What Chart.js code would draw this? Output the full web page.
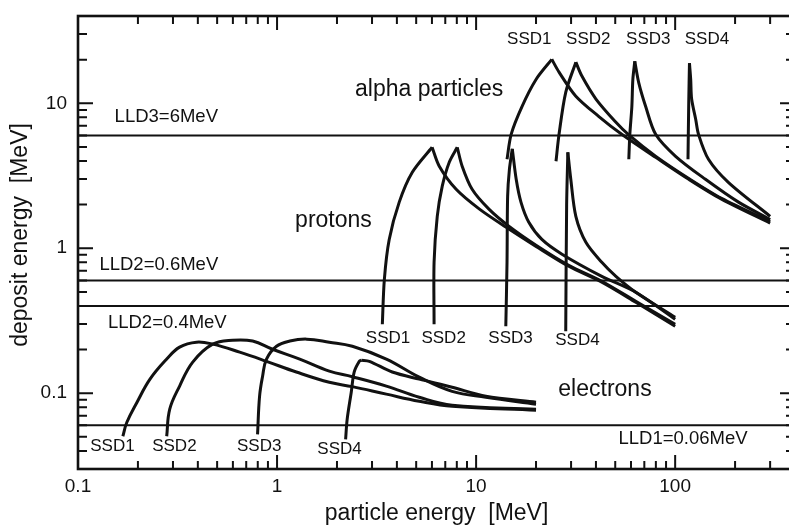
<!DOCTYPE html>
<html>
<head>
<meta charset="utf-8">
<title>deposit energy</title>
<script src="https://cdn.jsdelivr.net/npm/chart.js@4.4.1/dist/chart.umd.min.js"></script>
<style>
  html, body { margin: 0; padding: 0; background: #fff; overflow: hidden; }
  #wrap { position: relative; width: 800px; height: 527px; }
</style>
</head>
<body>
<div id="wrap"><canvas id="graph-energy"></canvas></div>
<script>
// [particle energy MeV, deposit energy MeV]
// alpha particles: rising part and falling part of each detector
const alphaSsd1Rise = [[14.3,4.11],[15.0,6.11],[17.0,9.5],[20.0,14.6],[24.0,20.1]];
const alphaSsd1Fall = [[24.0,20.1],[26.1,16.4],[31.7,11.2],[41.4,8.1],[53.9,6.11],[79.8,4.24],[117,2.99],[171,2.18],[300,1.49]];
const alphaSsd2Rise = [[25.2,3.98],[26.1,6.11],[28.2,11.9],[31.7,19.2]];
const alphaSsd2Fall = [[31.7,19.2],[34.0,15.4],[40.0,10.7],[50.4,7.4],[58.5,6.05],[80,4.3],[117,3.03],[171,2.21],[300,1.53]];
const alphaSsd3Rise = [[58.5,4.11],[59.2,6.11],[60.6,9.5],[61.3,14.6],[62.7,19.5]];
const alphaSsd3Fall = [[62.7,19.5],[65.6,13.9],[71.1,9.5],[79.8,6.11],[100.5,4.31],[142,2.99],[208,2.08],[300,1.58]];
const alphaSsd4Rise = [[116,4.11],[117,10],[118,18.9]];
const alphaSsd4Fall = [[118,18.9],[119.7,14.6],[121,10.7],[126.8,7.76],[131,6.11],[147,4.11],[185,2.85],[300,1.66]];

// protons
const protonSsd1Rise = [[3.38,0.299],[3.46,0.611],[3.66,1.15],[4.11,2.08],[4.78,3.34],[6.01,4.97]];
const protonSsd1Fall = [[6.01,4.97],[6.53,3.68],[7.94,2.55],[10.4,1.86],[14.1,1.40],[20.0,1.03],[29.2,0.751],[42.8,0.583],[63.4,0.424],[100,0.290]];
const protonSsd2Rise = [[6.15,0.299],[6.15,0.80],[6.38,1.66],[6.76,2.68],[7.33,3.92],[8.04,4.97]];
const protonSsd2Fall = [[8.04,4.97],[8.51,3.68],[9.55,2.55],[11.6,1.86],[14.6,1.42],[20.0,1.05],[29.2,0.763],[42.8,0.592],[63.4,0.431],[100,0.299]];
const protonSsd3Rise = [[14.1,0.29],[14.3,0.80],[14.4,2.28],[14.7,3.5],[15.2,4.85]];
const protonSsd3Fall = [[15.2,4.85],[15.9,2.99],[16.8,2.08],[18.4,1.51],[21.4,1.15],[27.0,0.91],[42.8,0.64],[63.4,0.497],[100,0.324]];
const protonSsd4Rise = [[28.2,0.268],[28.5,2.0],[28.9,4.59]];
const protonSsd4Fall = [[28.9,4.59],[29.9,2.99],[31.7,1.66],[35.6,1.10],[42.8,0.80],[50.4,0.64],[63.4,0.497],[100,0.334]];

// electrons
const electronSsd1 = [[0.168,0.0505],[0.176,0.063],[0.198,0.0867],[0.230,0.125],[0.279,0.172],[0.324,0.208],[0.394,0.225],[0.475,0.218],[0.649,0.192],[0.885,0.166],[1.25,0.140],[1.83,0.119],[2.39,0.111],[3.54,0.0985],[5.18,0.088],[7.58,0.0813],[20,0.0764]];
const electronSsd2 = [[0.279,0.0505],[0.289,0.0776],[0.324,0.112],[0.377,0.164],[0.475,0.218],[0.598,0.232],[0.754,0.229],[0.949,0.201],[1.30,0.172],[1.83,0.142],[2.39,0.130],[3.54,0.112],[5.18,0.0938],[7.58,0.0827],[20,0.0776]];
const electronSsd3 = [[0.798,0.052],[0.817,0.0953],[0.846,0.131],[0.885,0.172],[0.994,0.211],[1.16,0.229],[1.41,0.236],[1.83,0.225],[2.39,0.211],[3.54,0.172],[5.18,0.129],[7.58,0.103],[11.2,0.0938],[20,0.084]];
const electronSsd4Rise = [[2.21,0.048],[2.25,0.066],[2.36,0.102],[2.44,0.14],[2.59,0.166],[2.65,0.169]];
const electronSsd4Fall = [[2.65,0.169],[2.91,0.166],[3.79,0.140],[5.18,0.125],[7.58,0.110],[11.2,0.0953],[20,0.0867]];

// lower level discriminators
const lldLevels = [6, 0.6, 0.4, 0.06];

const xRange = [0.1, 400];
const yRange = [0.03, 40];
const xTickLabels = ['0.1', '1', '10', '100'];
const yTickLabels = ['0.1', '1', '10'];
const xTitle = 'particle energy  [MeV]';
const yTitle = 'deposit energy  [MeV]';

// text written on the plot, at [x, y] in data units
const particleNotes = [['alpha particles', 5.81, 12.5], ['protons', 1.92, 1.56], ['electrons', 44.4, 0.105]];
const lldNotes = [['LLD3=6MeV', 0.2777, 8.07], ['LLD2=0.6MeV', 0.2547, 0.764], ['LLD2=0.4MeV', 0.281, 0.304], ['LLD1=0.06MeV', 109.6, 0.0486]];
const ssdNotes = [
    ['SSD1', 18.5, 27.6], ['SSD2', 36.6, 27.6], ['SSD3', 73.3, 27.6], ['SSD4', 144.5, 27.6],
    ['SSD1', 3.61, 0.239], ['SSD2', 6.87, 0.239], ['SSD3', 14.9, 0.239], ['SSD4', 32.3, 0.230],
    ['SSD1', 0.149, 0.0431], ['SSD2', 0.305, 0.0431], ['SSD3', 0.813, 0.0431], ['SSD4', 2.06, 0.0411]
];

const ink = '#111';
const fontFamily = '"Liberation Sans", Arial, Helvetica, sans-serif';

function curve(points, tension) {
    return {
        data: points.map(p => ({x: p[0], y: p[1]})),
        showLine: true,
        borderColor: ink,
        borderWidth: 3,
        pointRadius: 0,
        tension: tension,
        fill: false
    };
}

var datasets = [];
[alphaSsd1Rise, alphaSsd1Fall, alphaSsd2Rise, alphaSsd2Fall, alphaSsd3Rise, alphaSsd3Fall, alphaSsd4Rise, alphaSsd4Fall,
 protonSsd1Rise, protonSsd1Fall, protonSsd2Rise, protonSsd2Fall, protonSsd3Rise, protonSsd3Fall, protonSsd4Rise, protonSsd4Fall,
 electronSsd4Rise, electronSsd4Fall].forEach(c => datasets.push(curve(c, 0.3)));
[electronSsd1, electronSsd2, electronSsd3].forEach(c => datasets.push(curve(c, 0.4)));
lldLevels.forEach(v => {
    datasets.push({
        data: [{x: xRange[0], y: v}, {x: xRange[1], y: v}],
        showLine: true, borderColor: ink, borderWidth: 2, pointRadius: 0, tension: 0
    });
});

// 1..9 steps of each decade inside the range
function decadeSteps(min, max) {
    var out = [];
    for (var e = Math.floor(Math.log10(min)); e <= Math.ceil(Math.log10(max)); e++) {
        for (var m = 1; m <= 9; m++) {
            var v = m * Math.pow(10, e);
            if (v >= min * 0.999 && v <= max * 1.001) out.push({v: v, major: m == 1});
        }
    }
    return out;
}

// box round the plot with inward ticks on all four sides
const framePlugin = {
    id: 'frame',
    afterDatasetsDraw(chart) {
        const ctx = chart.ctx, a = chart.chartArea, xs = chart.scales.x, ys = chart.scales.y;
        ctx.save();
        ctx.strokeStyle = ink;
        ctx.lineWidth = 2.6;
        ctx.strokeRect(a.left, a.top, a.right - a.left, a.bottom - a.top);
        ctx.lineWidth = 2;
        ctx.beginPath();
        decadeSteps(xs.min, xs.max).forEach(t => {
            var px = xs.getPixelForValue(t.v), len = t.major ? 14 : 8;
            ctx.moveTo(px, a.bottom); ctx.lineTo(px, a.bottom - len);
            ctx.moveTo(px, a.top); ctx.lineTo(px, a.top + len);
        });
        decadeSteps(ys.min, ys.max).forEach(t => {
            var py = ys.getPixelForValue(t.v), len = t.major ? 15 : 9;
            ctx.moveTo(a.left, py); ctx.lineTo(a.left + len, py);
            ctx.moveTo(a.right, py); ctx.lineTo(a.right - len, py);
        });
        ctx.stroke();
        ctx.restore();
    }
};

const notesPlugin = {
    id: 'notes',
    afterDatasetsDraw(chart) {
        const ctx = chart.ctx, xs = chart.scales.x, ys = chart.scales.y;
        ctx.save();
        ctx.fillStyle = ink;
        ctx.textAlign = 'center';
        ctx.textBaseline = 'middle';
        function put(list, size) {
            ctx.font = size + 'px ' + fontFamily;
            list.forEach(n => ctx.fillText(n[0], xs.getPixelForValue(n[1]), ys.getPixelForValue(n[2])));
        }
        put(particleNotes, 23);
        put(lldNotes, 18.5);
        put(ssdNotes, 17);

        // y axis title, sits a little above the middle of the axis
        ctx.font = '23px ' + fontFamily;
        ctx.translate(21, 235);
        ctx.rotate(-Math.PI / 2);
        ctx.fillText(yTitle, 0, 0);
        ctx.restore();
    }
};

Chart.defaults.font.family = fontFamily;
Chart.defaults.color = ink;

new Chart(document.getElementById('graph-energy'), {
    type: 'scatter',
    data: {datasets: datasets},
    options: {
        responsive: true,
        maintainAspectRatio: false,
        animation: false,
        layout: {padding: {top: 16, right: 5, left: 0, bottom: 0}},
        plugins: {legend: {display: false}, tooltip: {enabled: false}},
        scales: {
            x: {
                type: 'logarithmic',
                min: xRange[0],
                max: xRange[1],
                grid: {display: false, drawTicks: false},
                border: {display: false},
                ticks: {
                    autoSkip: false, maxRotation: 0, padding: 6,
                    font: {size: 19},
                    callback: v => xTickLabels.includes(String(v)) ? String(v) : ''
                },
                title: {display: true, text: xTitle, font: {size: 23}, padding: {top: 0, bottom: 0}},
                afterFit: s => { s.height = 58; s.paddingLeft = 0; s.paddingRight = 0; }
            },
            y: {
                type: 'logarithmic',
                min: yRange[0],
                max: yRange[1],
                grid: {display: false, drawTicks: false},
                border: {display: false},
                ticks: {
                    autoSkip: false, padding: 11,
                    font: {size: 19},
                    callback: v => yTickLabels.includes(String(v)) ? String(v) : ''
                },
                title: {display: false},
                afterFit: s => { s.width = 78; s.paddingTop = 0; s.paddingBottom = 0; }
            }
        }
    },
    plugins: [framePlugin, notesPlugin]
});
</script>
</body>
</html>
